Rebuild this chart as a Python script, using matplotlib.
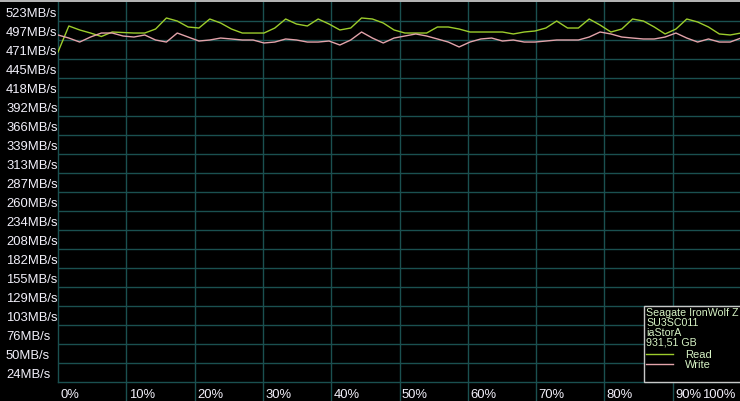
import numpy as np
import matplotlib
matplotlib.use("Agg")
import matplotlib.pyplot as plt
from matplotlib.lines import Line2D
from matplotlib.patches import Rectangle
import matplotlib.transforms as mtransforms

# ---- data ----
y_labels = [523, 497, 471, 445, 418, 392, 366, 339, 313, 287,
            260, 234, 208, 182, 155, 129, 103, 76, 50, 24]
x_ticks = [0, 10, 20, 30, 40, 50, 60, 70, 80, 90, 100]
x_tick_labels = ["0%", "10%", "20%", "30%", "40%", "50%", "60%", "70%", "80%", "90%", "100%"]

read_mbs = [454.2, 490.0, 484.5, 480.3, 475.5, 481.7, 481.0, 480.3, 480.3, 485.8,
            501.0, 496.8, 488.6, 487.2, 499.6, 494.1, 485.8, 480.3, 480.3, 480.3,
            487.2, 499.6, 492.7, 490.0, 499.6, 492.7, 484.5, 487.2, 501.0, 499.6,
            494.1, 484.5, 480.3, 480.3, 480.3, 488.6, 488.6, 485.8, 481.7, 481.7,
            481.7, 481.7, 479.0, 481.7, 483.1, 487.2, 496.8, 487.2, 487.2, 499.6,
            491.3, 481.7, 485.8, 499.6, 496.8, 488.6, 479.0, 485.8, 499.6, 495.5,
            488.6, 479.0, 477.6, 480.3]
write_mbs = [477.6, 473.4, 467.9, 474.8, 480.3, 480.3, 476.2, 474.8, 477.6, 470.7,
             467.9, 480.3, 474.8, 469.3, 470.7, 473.4, 472.1, 470.7, 470.7, 466.6,
             467.9, 472.1, 470.7, 467.9, 467.9, 469.3, 463.8, 470.7, 481.7, 473.4,
             466.6, 473.4, 476.2, 479.0, 476.2, 472.1, 467.9, 461.1, 467.9, 472.1,
             473.4, 469.3, 470.7, 467.9, 467.9, 469.3, 470.7, 470.7, 470.7, 474.8,
             481.7, 479.0, 474.8, 473.4, 472.1, 472.1, 474.8, 480.3, 473.4, 467.9,
             472.1, 467.9, 467.9, 473.4]
position_pct = np.linspace(0, 100, len(read_mbs))

legend_lines = ["Seagate IronWolf Z", "SU3SC011", "iaStorA", "931,51 GB"]
series_names = ["Read", "Write"]

# ---- style ----
W, H = 740, 401
BG = "black"
GRID = "#1a5050"
READ_C = "#9ccc2c"
WRITE_C = "#e3a3aa"
TXT = "#f2f0fa"
LEG_TXT = "#d6f2c4"
FONT = "Liberation Sans"

fig = plt.figure(figsize=(W / 100, H / 100), dpi=100, facecolor=BG)
ax = fig.add_axes([58 / W, 19 / H, 683 / W, 380 / H], facecolor=BG)
ax.set_xlim(0, 100)
ax.set_ylim(0, 523)
ax.set_xticks([])
ax.set_yticks([])
for s in ["top", "right"]:
    ax.spines[s].set_visible(False)
for s in ["left", "bottom"]:
    ax.spines[s].set_color(GRID)
    ax.spines[s].set_linewidth(1.0)

step = 523 / len(y_labels)
px_per_mb = 380 / 523
# horizontal grid at row boundaries
for i in range(1, len(y_labels)):
    ax.axhline(i * step, color=GRID, lw=1.0, zorder=1)
# vertical grid, extended through the label row
for xt in x_ticks[1:-1]:
    ax.axvline(xt, ymin=-19 / 380, ymax=1, color=GRID, lw=1.0, zorder=1, clip_on=False)

# y labels, centred in each row
blend = mtransforms.blended_transform_factory(fig.transFigure, ax.transData)
for i, lab in enumerate(y_labels):
    yc = 523 - (i + 0.5) * step - 2.5 / px_per_mb
    fig.text(6 / W, yc, f"{lab}MB/s", transform=blend, ha="left", va="center",
             color=TXT, fontsize=9.4, family=FONT)

# x labels
blendx = mtransforms.blended_transform_factory(ax.transData, fig.transFigure)
for xt, lab in zip(x_ticks, x_tick_labels):
    if xt == 100:
        ax.text(99.2, 1 - 394.5 / H, lab, transform=blendx, ha="right", va="center",
                color=TXT, fontsize=9.4, family=FONT, clip_on=False)
    else:
        ax.text(xt + 0.35, 1 - 394.5 / H, lab, transform=blendx, ha="left", va="center",
                color=TXT, fontsize=9.4, family=FONT, clip_on=False)

# data
ax.plot(position_pct, read_mbs, color=READ_C, lw=1.0, zorder=3)
ax.plot(position_pct, write_mbs, color=WRITE_C, lw=1.0, zorder=3)

# top light line
fig.add_artist(Line2D([0, 1], [1 - 0.5 / H, 1 - 0.5 / H], transform=fig.transFigure,
                      color="#d8d8d8", lw=1.2))

# legend box
def px(x, y):
    return (x / W, 1 - y / H)

fig.add_artist(Rectangle(px(644, 382), 110 / W, 76 / H, transform=fig.transFigure,
                         facecolor=BG, edgecolor="#c8c8c8", lw=1.0, zorder=5))
for j, t in enumerate(legend_lines):
    fig.text(*px(646, 313.5 + j * 9.8), t, ha="left", va="center", color=LEG_TXT,
             fontsize=7.7, family=FONT, zorder=6)
for j, (name, c) in enumerate(zip(series_names, [READ_C, WRITE_C])):
    yy = 354 + j * 9.5
    fig.add_artist(Line2D([646 / W, 673 / W], [1 - yy / H, 1 - yy / H],
                          transform=fig.transFigure, color=c, lw=1.0, zorder=6))
    fig.text(*px(685, yy + 1.5), name, ha="left", va="center", color=LEG_TXT,
             fontsize=8.0, family=FONT, zorder=6)

fig.savefig("out.png", dpi=100, facecolor=BG)
